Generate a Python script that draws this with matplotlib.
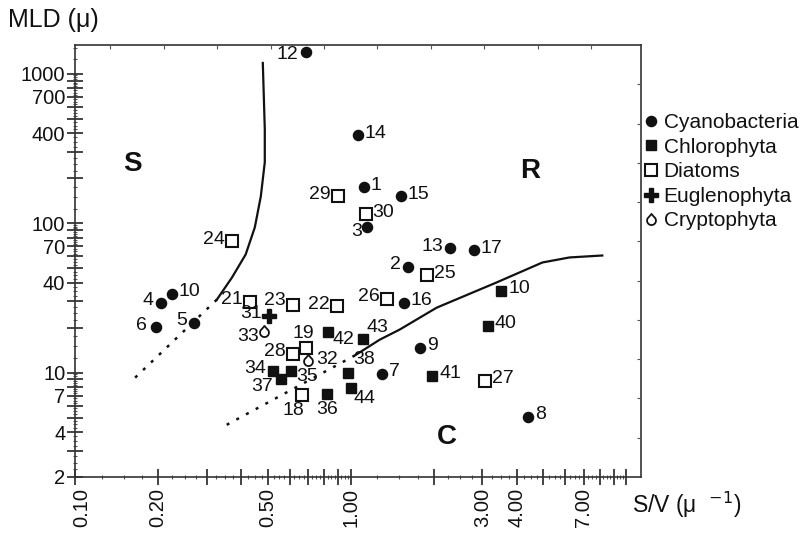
import numpy as np
import matplotlib
matplotlib.use("Agg")
import matplotlib.pyplot as plt
import matplotlib.transforms as mtransforms
from matplotlib.path import Path
from matplotlib.ticker import FixedLocator, NullFormatter, FixedFormatter

plt.rcParams['font.family'] = ['Liberation Sans', 'DejaVu Sans']

# ---------------- data ----------------
cyano_ids = ["1", "2", "3", "4", "5", "6", "7", "8", "9", "10", "12", "13", "14", "15", "16", "17"]
cyano_sv = [1.115, 1.61, 1.143, 0.205, 0.270, 0.1965, 1.295, 4.41, 1.79, 0.2246, 0.687, 2.30, 1.06, 1.518, 1.556, 2.79]
cyano_mld = [174, 51.3, 93.8, 29.4, 21.6, 20.3, 9.82, 5.05, 14.7, 33.8, 1402, 67.8, 389, 151, 29.4, 65.7]

chloro_ids = ["10", "34", "35", "36", "37", "38", "40", "41", "42", "43", "44"]
chloro_sv = [3.52, 0.522, 0.606, 0.818, 0.558, 0.975, 3.14, 1.98, 0.826, 1.105, 1.0]
chloro_mld = [35.4, 10.3, 10.3, 7.21, 9.09, 9.98, 20.6, 9.53, 18.8, 16.9, 7.91]

diatom_ids = ["18", "19", "21", "22", "23", "24", "25", "26", "27", "28", "29", "30"]
diatom_sv = [0.665, 0.687, 0.431, 0.890, 0.617, 0.371, 1.886, 1.35, 3.08, 0.617, 0.897, 1.133]
diatom_mld = [7.10, 14.5, 29.9, 27.7, 28.5, 75.5, 44.7, 31.3, 8.82, 13.4, 151, 115]

eugl_ids = ["31"]
eugl_sv = [0.505]
eugl_mld = [24.1]

crypto_ids = ["32", "33"]
crypto_sv = [0.699, 0.484]
crypto_mld = [12.2, 19.1]

# boundary curves
s_curve_sv = [0.480, 0.488, 0.488, 0.472, 0.449, 0.416, 0.371, 0.327]
s_curve_mld = [1183, 427, 256, 151, 93.8, 61.8, 43.3, 30.8]
s_dot_sv = [0.327, 0.165]
s_dot_mld = [30.8, 9.23]

c_dot_sv = [0.355, 1.034]
c_dot_mld = [4.47, 13.0]
c_curve_sv = [1.034, 1.274, 1.505, 2.05, 3.38, 4.96, 6.22, 8.18]
c_curve_mld = [13.0, 16.6, 19.4, 27.2, 40.1, 54.6, 59.0, 60.8]

region_names = ["S", "R", "C"]
region_sv = [0.162, 4.49, 2.23]
region_mld = [248, 223, 3.71]

x_tick_labels = ["0.10", "0.20", "0.50", "1.00", "3.00", "4.00", "7.00"]
y_tick_labels = ["2", "4", "7", "10", "40", "70", "100", "400", "700", "1000"]

# ---------------- label placement (pixels: dx, dy, ha) ----------------
R = (7, 2, 'left')
L = (-7, 2, 'right')
place = {
    ("c", "1"): R, ("c", "2"): L, ("c", "3"): (-5, -4, 'right'), ("c", "4"): L,
    ("c", "5"): L, ("c", "6"): (-9, 1, 'right'), ("c", "7"): R, ("c", "8"): R,
    ("c", "9"): R, ("c", "10"): R, ("c", "12"): (-7, -3, 'right'), ("c", "13"): L,
    ("c", "14"): R, ("c", "15"): R, ("c", "16"): R, ("c", "17"): R,
    ("h", "10"): R, ("h", "34"): L, ("h", "35"): (6, -6, 'left'),
    ("h", "36"): (0, -16, 'center'), ("h", "37"): (-8, -8, 'right'),
    ("h", "38"): (6, 13, 'left'), ("h", "40"): R, ("h", "41"): R,
    ("h", "42"): (5, -8, 'left'), ("h", "43"): (4, 11, 'left'), ("h", "44"): (3, -11, 'left'),
    ("d", "18"): (-8, -16, 'center'), ("d", "19"): (-2, 15, 'center'),
    ("d", "21"): L, ("d", "22"): L, ("d", "23"): (-7, 4, 'right'), ("d", "24"): L,
    ("d", "25"): R, ("d", "26"): L, ("d", "27"): R, ("d", "28"): L, ("d", "29"): L,
    ("d", "30"): R,
    ("e", "31"): L,
    ("p", "32"): (8, 0, 'left'), ("p", "33"): (-5, -6, 'right'),
}

# teardrop marker for Cryptophyta
ang = np.radians(np.linspace(55, -235, 40))
verts = [(np.cos(a), np.sin(a) - 0.25) for a in ang] + [(0, 1.25), (np.cos(ang[0]), np.sin(ang[0]) - 0.25)]
codes = [Path.MOVETO] + [Path.LINETO] * (len(verts) - 2) + [Path.CLOSEPOLY]
tear = Path(verts, codes)

fig = plt.figure(figsize=(8.04, 5.42), dpi=100)
W, H = 804, 542
ax = fig.add_axes([75 / W, 1 - 477 / H, (641 - 75) / W, (477 - 45) / H])
ax.set_xscale('log')
ax.set_yscale('log')
ax.set_xlim(0.1, 11.3)
ax.set_ylim(2, 1560)

ink = '#111111'
ax.plot(s_curve_sv, s_curve_mld, color=ink, lw=1.6, zorder=2)
ax.plot(s_dot_sv, s_dot_mld, color=ink, lw=1.8, ls=(0, (1.2, 3.2)), zorder=2)
ax.plot(c_dot_sv, c_dot_mld, color=ink, lw=1.8, ls=(0, (1.2, 3.2)), zorder=2)
ax.plot(c_curve_sv, c_curve_mld, color=ink, lw=1.6, zorder=2)

groups = [
    ("c", cyano_ids, cyano_sv, cyano_mld, dict(marker='o', ms=7.3, mfc=ink, mec=ink), "Cyanobacteria"),
    ("h", chloro_ids, chloro_sv, chloro_mld, dict(marker='s', ms=7.5, mfc=ink, mec=ink), "Chlorophyta"),
    ("d", diatom_ids, diatom_sv, diatom_mld, dict(marker='s', ms=8, mfc='white', mec=ink, mew=1.5), "Diatoms"),
    ("e", eugl_ids, eugl_sv, eugl_mld, dict(marker='P', ms=9.5, mfc=ink, mec=ink), "Euglenophyta"),
    ("p", crypto_ids, crypto_sv, crypto_mld, dict(marker=tear, ms=8, mfc='white', mec=ink, mew=1.3), "Cryptophyta"),
]
handles = []
for key, ids, xs, ys, style, name in groups:
    h, = ax.plot(xs, ys, ls='none', zorder=3, label=name, **style)
    handles.append(h)
    for i, x, y in zip(ids, xs, ys):
        dx, dy, ha = place[(key, i)]
        ax.annotate(i, (x, y), xytext=(dx, dy), textcoords='offset pixels',
                    ha=ha, va='center', fontsize=14, color=ink, zorder=4)

# region letters
for name, x, y in zip(region_names, region_sv, region_mld):
    ax.text(x, y, name, fontsize=20, fontweight='bold', ha='center', va='center', color=ink)

# ticks
xmaj = [0.1 * k for k in range(1, 10)] + [1.0 * k for k in range(1, 11)]
xmin_ = []
for base in [0.1 * k for k in range(1, 10)] + [1.0 * k for k in range(1, 10)]:
    for f in (0.25, 0.5, 0.75):
        xmin_.append(base + (0.1 if base < 1 else 1.0) * f)
ax.xaxis.set_major_locator(FixedLocator(xmaj))
ax.xaxis.set_minor_locator(FixedLocator(xmin_))
xlab_map = {0.1: "0.10", 0.2: "0.20", 0.5: "0.50", 1.0: "1.00", 3.0: "3.00", 4.0: "4.00", 7.0: "7.00"}
xl = []
for v in xmaj:
    s = ""
    for k, t in xlab_map.items():
        if abs(v - k) < 1e-6 and t in x_tick_labels:
            s = t
    xl.append(s)
ax.xaxis.set_major_formatter(FixedFormatter(xl))
ax.xaxis.set_minor_formatter(NullFormatter())

ymaj = [k for k in range(2, 10)] + [10 * k for k in range(1, 10)] + [100 * k for k in range(1, 11)]
ymin_ = []
for base in [1, 10, 100, 1000]:
    for k in range(1, 10):
        for f in (0.25, 0.5, 0.75):
            v = (k + f) * base
            if 2 < v < 1560:
                ymin_.append(v)
ax.yaxis.set_major_locator(FixedLocator(ymaj))
ax.yaxis.set_minor_locator(FixedLocator(ymin_))
ylab = {2: "2", 4: "4", 7: "7", 10: "10", 40: "40", 70: "70", 100: "100", 400: "400", 700: "700", 1000: "1000"}
ax.yaxis.set_major_formatter(FixedFormatter([ylab.get(v, "") if ylab.get(v, "") in y_tick_labels else "" for v in ymaj]))
ax.yaxis.set_minor_formatter(NullFormatter())

ax.tick_params(axis='both', which='major', direction='inout', length=12, width=1.1, color=ink,
               labelsize=14.5, labelcolor=ink)
ax.tick_params(axis='both', which='minor', direction='inout', length=3.5, width=0.8, color='#555555')
ax.tick_params(axis='x', which='major', labelrotation=90, pad=2)
ax.tick_params(axis='y', which='major', pad=1)
for s in ax.spines.values():
    s.set_color('#333333')
    s.set_linewidth(1.2)

# nudge the first x tick label (0.10) right, as in the original
first_lbl = ax.xaxis.get_majorticklabels()[0]
first_lbl.set_transform(first_lbl.get_transform() +
                        mtransforms.ScaledTranslation(7 / 100, 0, fig.dpi_scale_trans))

# decorative linear ticks on top and right
ax2 = fig.add_axes(ax.get_position(), frameon=False)
ax2.set_xlim(0, 1)
ax2.set_ylim(0, 1)
ax2.xaxis.tick_top()
ax2.yaxis.tick_right()
ax2.set_xticks([35 / 566 + k * 53.5 / 566 for k in range(10)])
ax2.set_yticks([k / 11 for k in range(1, 11)])
ax2.set_xticklabels([])
ax2.set_yticklabels([])
ax2.tick_params(direction='in', length=3, width=0.8, color='#555555')
ax2.patch.set_visible(False)

# axis titles
fig.text(8 / W, 1 - 20 / H, "MLD (μ)", fontsize=18, ha='left', va='center', color=ink)
fig.text(632 / W, 1 - 505 / H, "S/V (μ  $^{-1}$)", fontsize=16.5, ha='left', va='center', color=ink)

fig.legend(handles=handles, loc='upper left', bbox_to_anchor=(645 / W, 1 - 113 / H),
           frameon=False, fontsize=15, handlelength=0.6, handletextpad=0.3,
           labelspacing=0.27, borderaxespad=0, borderpad=0, labelcolor=ink)

fig.savefig("out.png", dpi=100)
